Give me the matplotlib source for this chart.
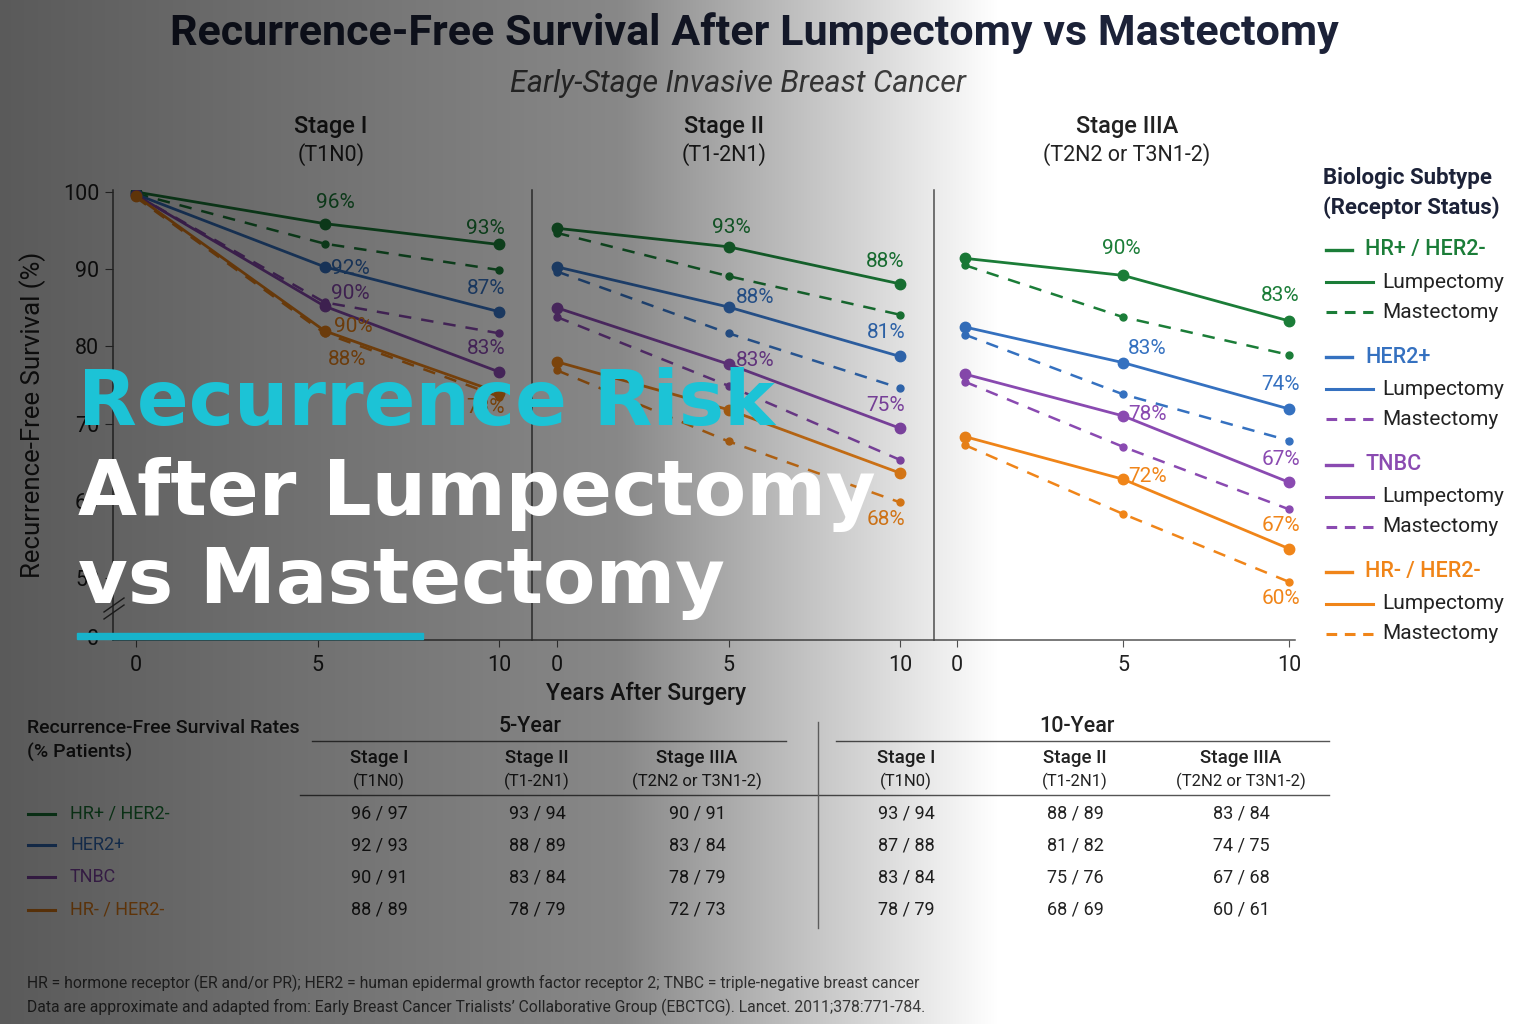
import numpy as np
import matplotlib
matplotlib.use("Agg")
import matplotlib.pyplot as plt
from matplotlib.lines import Line2D
from matplotlib.patches import Rectangle

plt.rcParams['font.family'] = ['Roboto', 'DejaVu Sans']

W, H = 1536, 1024
nan = np.nan

# ---------------- data ----------------
subtypes = ["HR+ / HER2-", "HER2+", "TNBC", "HR- / HER2-"]
colors = ["#1b7d38", "#3571c0", "#8a4ab1", "#f08519"]
stage_names = ["Stage I", "Stage II", "Stage IIIA"]
stage_codes = ["(T1N0)", "(T1-2N1)", "(T2N2 or T3N1-2)"]

years_stage1 = [0, 5.2, 10]
years_stage2 = [0, 5, 10]
years_stage3 = [0.25, 5, 10]

lump_stage1 = [[100, 95.9, 93.2], [99.7, 90.3, 84.5], [99.6, 85.2, 76.7], [99.5, 82.0, 74.0]]
mast_stage1 = [[99.8, 93.3, 89.9], [nan, nan, nan], [99.6, 85.7, 81.7], [99.3, 81.7, 73.5]]

lump_stage2 = [[95.3, 92.9, 88.1], [90.3, 85.1, 78.7], [85.0, 77.7, 69.4], [78.0, 71.8, 63.6]]
mast_stage2 = [[94.7, 89.1, 84.1], [89.7, 81.7, 74.6], [83.8, 74.9, 65.3], [76.9, 67.7, 59.8]]

lump_stage3 = [[91.4, 89.2, 83.3], [82.5, 77.9, 71.9], [76.4, 71.0, 62.4], [68.3, 62.8, 53.8]]
mast_stage3 = [[90.5, 83.8, 78.9], [81.5, 73.8, 67.8], [75.4, 67.0, 58.9], [67.2, 58.3, 49.5]]

# point labels: (subtype, series, point index, text)
labels_stage1 = [(0, "lump", 1, "96%"), (0, "lump", 2, "93%"), (1, "lump", 1, "92%"),
                 (2, "lump", 1, "90%"), (1, "lump", 2, "87%"), (3, "lump", 1, "90%"),
                 (3, "lump", 1, "88%"), (2, "lump", 2, "83%"), (3, "lump", 2, "78%")]
labels_stage2 = [(0, "lump", 1, "93%"), (0, "lump", 2, "88%"), (1, "lump", 1, "88%"),
                 (1, "lump", 2, "81%"), (2, "lump", 1, "83%"), (2, "lump", 2, "75%"),
                 (3, "mast", 2, "68%")]
labels_stage3 = [(0, "lump", 1, "90%"), (0, "lump", 2, "83%"), (1, "lump", 1, "83%"),
                 (1, "lump", 2, "74%"), (2, "lump", 1, "78%"), (2, "lump", 2, "67%"),
                 (3, "lump", 1, "72%"), (3, "lump", 2, "67%"), (3, "mast", 2, "60%")]

# label offsets in pixels (dx, dy, ha)
offsets_stage1 = [(11, 21, "center"), (6, 16, "right"), (6, -2, "left"), (6, 13, "left"),
                  (6, 23, "right"), (9, 4, "left"), (22, -29, "center"), (6, 23, "right"),
                  (6, -15, "right")]
offsets_stage2 = [(3, 19, "center"), (4, 22, "right"), (7, 10, "left"), (5, 24, "right"),
                  (7, 4, "left"), (5, 23, "right"), (5, -17, "right")]
offsets_stage3 = [(-2, 27, "center"), (11, 25, "right"), (5, 14, "left"), (11, 24, "right"),
                  (5, 1, "left"), (11, 23, "right"), (5, 3, "left"), (11, 23, "right"),
                  (11, -17, "right")]

rfs5_lump = [[96, 93, 90], [92, 88, 83], [90, 83, 78], [88, 78, 72]]
rfs5_mast = [[97, 94, 91], [93, 89, 84], [91, 84, 79], [89, 79, 73]]
rfs10_lump = [[93, 88, 83], [87, 81, 74], [83, 75, 67], [78, 68, 60]]
rfs10_mast = [[94, 89, 84], [88, 82, 75], [84, 76, 68], [79, 69, 61]]

# legend quirk of the original: HER2+ mastectomy dash drawn in purple
legend_mast_colors = [colors[0], colors[2], colors[2], colors[3]]


def fx(px):
    return px / W


def fy(py):
    return 1 - py / H


fig = plt.figure(figsize=(15.36, 10.24), dpi=100)
fig.patch.set_facecolor("white")

# panel geometry: left px, right px, px of x=0, px of x=10
geom = [(113, 532, 136, 499), (532, 934, 557, 900), (934, 1295, 957, 1289)]
top_px, bot_px = 190, 640
ylo = 100 - (bot_px - 192) / 7.72
yhi = 100 + 2 / 7.72

panel_data = [(years_stage1, lump_stage1, mast_stage1, labels_stage1, offsets_stage1),
              (years_stage2, lump_stage2, mast_stage2, labels_stage2, offsets_stage2),
              (years_stage3, lump_stage3, mast_stage3, labels_stage3, offsets_stage3)]

axes = []
for i, (l, r, z, t) in enumerate(geom):
    ax = fig.add_axes([fx(l), fy(bot_px), (r - l) / W, (bot_px - top_px) / H])
    unit = (t - z) / 10
    ax.set_xlim((l - z) / unit, (r - z) / unit)
    ax.set_ylim(ylo, yhi)
    ax.patch.set_alpha(0)
    for s in ["top", "right"]:
        ax.spines[s].set_visible(False)
    for s in ["left", "bottom"]:
        ax.spines[s].set_color("#555555")
        ax.spines[s].set_linewidth(1.1)
    ax.set_xticks([0, 5, 10])
    ax.tick_params(axis="x", length=5, color="#555555", labelsize=15.5, labelcolor="#222222", pad=6)
    if i == 0:
        ax.set_yticks([42.4, 50, 60, 70, 80, 90, 100])
        ax.set_yticklabels(["0", "50", "60", "70", "80", "90", "100"])
        ax.tick_params(axis="y", length=6, color="#555555", labelsize=15.5, labelcolor="#222222", pad=4)
    else:
        ax.set_yticks([])
    years, lump, mast, labs, offs = panel_data[i]
    for k in range(4):
        ax.plot(years, lump[k], color=colors[k], lw=2, marker="o", ms=7.5, zorder=3)
        ax.plot(years, mast[k], color=colors[k], lw=1.8, ls=(0, (5, 4)), marker="o", ms=5, zorder=2)
    for (k, ser, idx, txt), (dx, dy, ha) in zip(labs, offs):
        src = lump if ser == "lump" else mast
        ax.annotate(txt, (years[idx], src[k][idx]), xytext=(dx, dy), textcoords="offset pixels",
                    ha=ha, va="center", fontsize=15, color=colors[k])
    axes.append(ax)

axes[0].set_ylabel("Recurrence-Free Survival (%)", fontsize=18.5, color="#222222", labelpad=12)

# axis break marks
for off in (0, 7):
    fig.add_artist(Line2D([fx(104), fx(124)], [fy(612 + off), fy(598 + off)], color="#444444", lw=1))

# titles
fig.text(fx(754), fy(33), "Recurrence-Free Survival After Lumpectomy vs Mastectomy", ha="center",
         va="center", fontsize=31, weight="bold", color="#1c2238")
fig.text(fx(738), fy(83), "Early-Stage Invasive Breast Cancer", ha="center", va="center",
         fontsize=22, style="italic", color="#444444")
for cx, nm, cd in zip([331, 724, 1127], stage_names, stage_codes):
    fig.text(fx(cx), fy(127), nm, ha="center", va="center", fontsize=17, weight="medium", color="#222222")
    fig.text(fx(cx), fy(155), cd, ha="center", va="center", fontsize=15.5, color="#222222")
fig.text(fx(646), fy(693), "Years After Surgery", ha="center", va="center", fontsize=16.5,
         weight="medium", color="#222222")

# legend
fig.text(fx(1323), fy(178), "Biologic Subtype", ha="left", va="center", fontsize=16,
         weight="bold", color="#1c2238")
fig.text(fx(1323), fy(208), "(Receptor Status)", ha="left", va="center", fontsize=16,
         weight="bold", color="#1c2238")
for k in range(4):
    y0 = 250 + 107.3 * k
    fig.add_artist(Line2D([fx(1326), fx(1352)], [fy(y0), fy(y0)], color=colors[k], lw=2.4))
    fig.text(fx(1365), fy(y0), subtypes[k], ha="left", va="center", fontsize=15.5,
             weight="medium", color=colors[k])
    fig.add_artist(Line2D([fx(1326), fx(1373)], [fy(y0 + 32), fy(y0 + 32)], color=colors[k], lw=2.2))
    fig.text(fx(1382), fy(y0 + 32), "Lumpectomy", ha="left", va="center", fontsize=15, color="#222222")
    fig.add_artist(Line2D([fx(1326), fx(1373)], [fy(y0 + 62), fy(y0 + 62)], color=legend_mast_colors[k],
                          lw=2.2, ls=(0, (3.5, 2.5))))
    fig.text(fx(1382), fy(y0 + 62), "Mastectomy", ha="left", va="center", fontsize=15, color="#222222")

# table
fig.text(fx(27), fy(728), "Recurrence-Free Survival Rates", ha="left", va="center", fontsize=14,
         weight="medium", color="#222222")
fig.text(fx(27), fy(752), "(% Patients)", ha="left", va="center", fontsize=14,
         weight="medium", color="#222222")
fig.text(fx(530), fy(727), "5-Year", ha="center", va="center", fontsize=15.5, weight="medium", color="#222222")
fig.text(fx(1077), fy(727), "10-Year", ha="center", va="center", fontsize=15.5, weight="medium", color="#222222")
fig.add_artist(Line2D([fx(312), fx(786)], [fy(741), fy(741)], color="#555555", lw=1))
fig.add_artist(Line2D([fx(836), fx(1329)], [fy(741), fy(741)], color="#555555", lw=1))
fig.add_artist(Line2D([fx(300), fx(1329)], [fy(795), fy(795)], color="#555555", lw=1))
fig.add_artist(Line2D([fx(818), fx(818)], [fy(722), fy(928)], color="#777777", lw=1))

col_x = [379, 537, 697, 906, 1075, 1241]
row_y = [814, 845, 877, 910]
for j, cx in enumerate(col_x):
    fig.text(fx(cx), fy(758), stage_names[j % 3], ha="center", va="center", fontsize=13.5,
             weight="medium", color="#222222")
    fig.text(fx(cx), fy(781), stage_codes[j % 3], ha="center", va="center", fontsize=12, color="#222222")
for k in range(4):
    ry = row_y[k]
    fig.add_artist(Line2D([fx(28), fx(55)], [fy(ry), fy(ry)], color=colors[k], lw=2.2))
    fig.text(fx(70), fy(ry), subtypes[k], ha="left", va="center", fontsize=13, color=colors[k])
    for j in range(3):
        fig.text(fx(col_x[j]), fy(ry), f"{rfs5_lump[k][j]} / {rfs5_mast[k][j]}", ha="center",
                 va="center", fontsize=13, color="#222222")
        fig.text(fx(col_x[j + 3]), fy(ry), f"{rfs10_lump[k][j]} / {rfs10_mast[k][j]}", ha="center",
                 va="center", fontsize=13, color="#222222")

# footnotes
fig.text(fx(27), fy(983), "HR = hormone receptor (ER and/or PR); HER2 = human epidermal growth factor "
         "receptor 2; TNBC = triple-negative breast cancer", ha="left", va="center", fontsize=11.3, color="#444444")
fig.text(fx(27), fy(1007), "Data are approximate and adapted from: Early Breast Cancer Trialists\u2019 "
         "Collaborative Group (EBCTCG). Lancet. 2011;378:771-784.", ha="left", va="center",
         fontsize=11.3, color="#444444")

# dark gradient overlay from the left
ov = fig.add_axes([0, 0, 1, 1], zorder=10)
ov.axis("off")
xs = np.arange(W)
alpha = np.interp(xs, [0, 620, 1000, W], [0.65, 0.47, 0.0, 0.0])
grad = np.zeros((1, W, 4))
grad[0, :, 3] = alpha
ov.imshow(grad, extent=[0, 1, 0, 1], aspect="auto", interpolation="bilinear")
ov.set_xlim(0, 1)
ov.set_ylim(0, 1)

# overlay headline
big = dict(ha="left", va="baseline", fontsize=55, weight="bold", family="DejaVu Sans", zorder=20)
fig.text(fx(78), fy(425), "Recurrence Risk", color="#1cc3d6", **big)
fig.text(fx(78), fy(515), "After Lumpectomy", color="white", **big)
fig.text(fx(78), fy(603), "vs Mastectomy", color="white", **big)
fig.add_artist(Rectangle((fx(77), fy(639)), fx(423) - fx(77), 6 / H, color="#17b3cb", zorder=20))

fig.savefig("out.png", dpi=100)
